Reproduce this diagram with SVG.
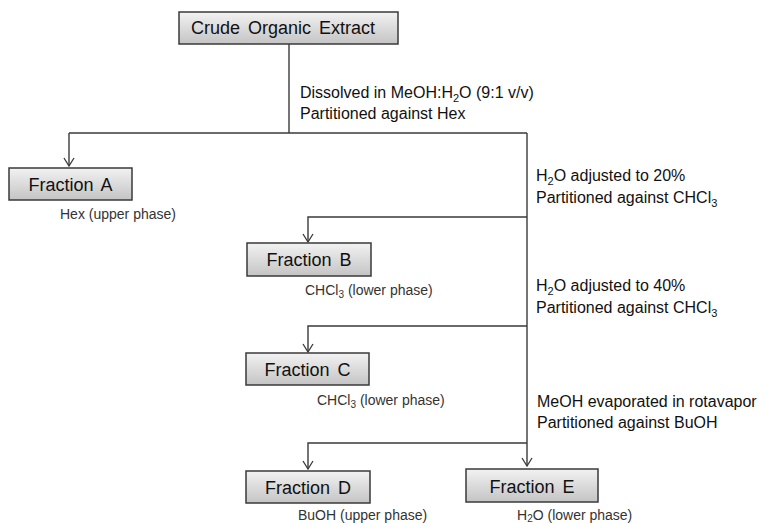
<svg xmlns="http://www.w3.org/2000/svg" width="768" height="523" viewBox="0 0 768 523">
<style>
.box{fill:url(#g);stroke:#3a3a3a;stroke-width:1.5}
.bt{font-family:"Liberation Sans",Arial,sans-serif;font-size:18px;fill:#111;text-anchor:middle;word-spacing:3px}
.st{font-family:"Liberation Sans",Arial,sans-serif;font-size:16px;fill:#111}
.pt{font-family:"Liberation Sans",Arial,sans-serif;font-size:14px;fill:#333}
.ln{fill:none;stroke:#3a3a3a;stroke-width:1.4}
</style>
<defs>
<linearGradient id="g" x1="0" y1="0" x2="0" y2="1">
<stop offset="0" stop-color="#f2f2f2"/>
<stop offset="1" stop-color="#c4c4c4"/>
</linearGradient>
<marker id="ah" viewBox="0 0 10 12" refX="9" refY="6" markerWidth="10" markerHeight="12" markerUnits="userSpaceOnUse" orient="auto">
<path d="M1,1 L9,6 L1,11" fill="none" stroke="#3a3a3a" stroke-width="1.3"/>
</marker>
</defs>
<rect width="768" height="523" fill="#fff"/>
<g id="connectors">
<path class="ln" d="M289,44 V133"/>
<path class="ln" d="M69,133 H527"/>
<path class="ln" d="M69,133 V166" marker-end="url(#ah)"/>
<path class="ln" d="M527,133 V466" marker-end="url(#ah)"/>
<path class="ln" d="M527,217 H308 V242" marker-end="url(#ah)"/>
<path class="ln" d="M527,326 H308 V352" marker-end="url(#ah)"/>
<path class="ln" d="M527,443 H308 V469" marker-end="url(#ah)"/>
</g>
<g id="crude">
<rect class="box" x="179" y="12" width="219" height="32"/>
<text class="bt" x="283" y="34">Crude Organic Extract</text>
</g>
<g id="step1">
<text class="st" x="300" y="98">Dissolved in MeOH:H<tspan font-size="11" dy="4">2</tspan><tspan dy="-4">O (9:1 v/v)</tspan></text>
<text class="st" x="300" y="119">Partitioned against Hex</text>
</g>
<g id="fractionA">
<rect class="box" x="9" y="168" width="123" height="32"/>
<text class="bt" x="70.5" y="191">Fraction A</text>
<text class="pt" x="60" y="219">Hex (upper phase)</text>
</g>
<g id="step2">
<text class="st" x="536" y="181">H<tspan font-size="11" dy="4">2</tspan><tspan dy="-4">O adjusted to 20%</tspan></text>
<text class="st" x="536" y="203">Partitioned against CHCl<tspan font-size="11" dy="4">3</tspan></text>
</g>
<g id="fractionB">
<rect class="box" x="247" y="243" width="124" height="33"/>
<text class="bt" x="309" y="266">Fraction B</text>
<text class="pt" x="305" y="295">CHCl<tspan font-size="10" dy="3">3</tspan><tspan dy="-3"> (lower phase)</tspan></text>
</g>
<g id="step3">
<text class="st" x="536" y="291">H<tspan font-size="11" dy="4">2</tspan><tspan dy="-4">O adjusted to 40%</tspan></text>
<text class="st" x="536" y="313">Partitioned against CHCl<tspan font-size="11" dy="4">3</tspan></text>
</g>
<g id="fractionC">
<rect class="box" x="246" y="353" width="123" height="32"/>
<text class="bt" x="307.5" y="376">Fraction C</text>
<text class="pt" x="317" y="405">CHCl<tspan font-size="10" dy="3">3</tspan><tspan dy="-3"> (lower phase)</tspan></text>
</g>
<g id="step4">
<text class="st" x="537" y="407">MeOH evaporated in rotavapor</text>
<text class="st" x="537" y="428">Partitioned against BuOH</text>
</g>
<g id="fractionD">
<rect class="box" x="246" y="471" width="124" height="32"/>
<text class="bt" x="308" y="494">Fraction D</text>
<text class="pt" x="298" y="520">BuOH (upper phase)</text>
</g>
<g id="fractionE">
<rect class="box" x="466" y="469" width="132" height="33"/>
<text class="bt" x="532" y="493">Fraction E</text>
<text class="pt" x="517" y="520">H<tspan font-size="10" dy="2">2</tspan><tspan dy="-2">O (lower phase)</tspan></text>
</g>
</svg>
